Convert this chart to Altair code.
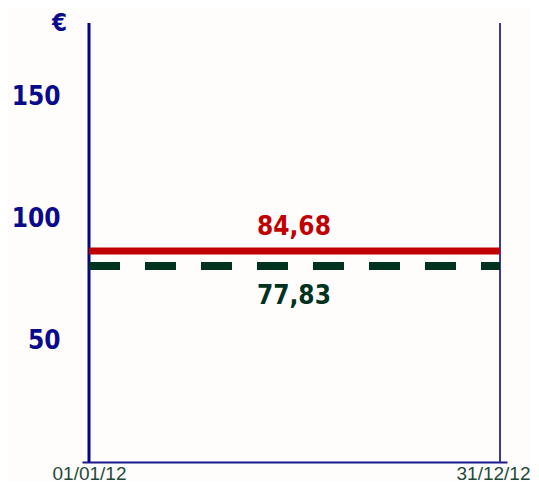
import altair as alt
import pandas as pd

# ---- data ----
period_start = "2012-01-01"
period_end = "2012-12-31"
label_date = "2012-07-01"
series_names = ["rouge", "vert"]
line_levels = [86.5, 80.4]          # drawn level of each horizontal line
label_texts = ["84,68", "77,83"]    # value labels printed on the chart
series_colors = ["#c00000", "#00331f"]
y_tick_values = [50, 100, 150]
edge_dates = [period_start, period_end]
edge_colors = ["#05058c", "#3a3a9c"]
edge_widths = [3, 2]

lines = pd.DataFrame({
    "name": series_names,
    "start": pd.to_datetime([period_start] * 2),
    "end": pd.to_datetime([period_end] * 2),
    "mid": pd.to_datetime([label_date] * 2),
    "level": line_levels,
    "label": label_texts,
    "color": series_colors,
})
edges = pd.DataFrame({
    "date": pd.to_datetime(edge_dates),
    "color": edge_colors,
    "width": edge_widths,
})

FONT = "DejaVu Sans Condensed"
NAVY = "#0a0a8c"

x_scale = alt.Scale(
    domain=[alt.DateTime(year=2012, month=1, date=1), alt.DateTime(year=2012, month=12, date=31)],
    padding=7, nice=False,
)
y_scale = alt.Scale(domain=[0, 180], nice=False, zero=True)

x_axis = alt.Axis(
    values=[alt.DateTime(year=2012, month=1, date=1), alt.DateTime(year=2012, month=12, date=31)],
    format="%d/%m/%y", title=None, ticks=False, grid=False,
    domainColor="#1a1a8c", domainWidth=2,
    labelColor="#1f4a3a", labelFont="Liberation Sans", labelFontSize=19,
    labelBaseline="alphabetic", labelPadding=17, labelFlush=False, labelOverlap=False,
    labelOffset={"condition": {"test": "datum.index === 1", "value": -7}, "value": 0},
)
y_axis = alt.Axis(
    values=y_tick_values, ticks=False, grid=False, domain=False,
    labelColor=NAVY, labelFont=FONT, labelFontSize=26, labelFontWeight="bold",
    labelPadding=22,
    title="€", titleAngle=0, titleX=-23, titleY=0, titleAlign="center",
    titleBaseline="middle", titleColor=NAVY, titleFont=FONT, titleFontSize=24,
    titleFontWeight="bold",
)

base = alt.Chart(lines)

edge_rules = alt.Chart(edges).mark_rule().encode(
    x=alt.X("date:T", scale=x_scale, axis=x_axis),
    color=alt.Color("color:N", scale=None),
    strokeWidth=alt.StrokeWidth("width:Q", scale=None),
)

red_line = base.transform_filter(alt.datum.name == "rouge").mark_rule(strokeWidth=7).encode(
    x=alt.X("start:T", scale=x_scale, axis=x_axis),
    x2="end:T",
    y=alt.Y("level:Q", scale=y_scale, axis=y_axis),
    color=alt.Color("color:N", scale=None),
)
green_line = base.transform_filter(alt.datum.name == "vert").mark_rule(
    strokeWidth=8, strokeDash=[31, 25]
).encode(
    x=alt.X("start:T", scale=x_scale, axis=x_axis),
    x2="end:T",
    y=alt.Y("level:Q", scale=y_scale, axis=y_axis),
    color=alt.Color("color:N", scale=None),
)
red_text = base.transform_filter(alt.datum.name == "rouge").mark_text(
    font=FONT, fontSize=26, fontWeight="bold", dy=-24, baseline="middle"
).encode(
    x=alt.X("mid:T", scale=x_scale, axis=x_axis),
    y=alt.Y("level:Q", scale=y_scale, axis=y_axis),
    text="label:N",
    color=alt.Color("color:N", scale=None),
)
green_text = base.transform_filter(alt.datum.name == "vert").mark_text(
    font=FONT, fontSize=26, fontWeight="bold", dy=30, baseline="middle"
).encode(
    x=alt.X("mid:T", scale=x_scale, axis=x_axis),
    y=alt.Y("level:Q", scale=y_scale, axis=y_axis),
    text="label:N",
    color=alt.Color("color:N", scale=None),
)

chart = alt.layer(edge_rules, green_line, red_line, red_text, green_text).properties(
    width=425, height=439,
    autosize=alt.AutoSizeParams(type="none"),
    padding={"left": 74, "top": 15, "right": 24, "bottom": 20},
    background="#fefdfb",
).configure_view(stroke=None)

chart.save("out.html", embed_options={"renderer": "svg", "actions": False})
